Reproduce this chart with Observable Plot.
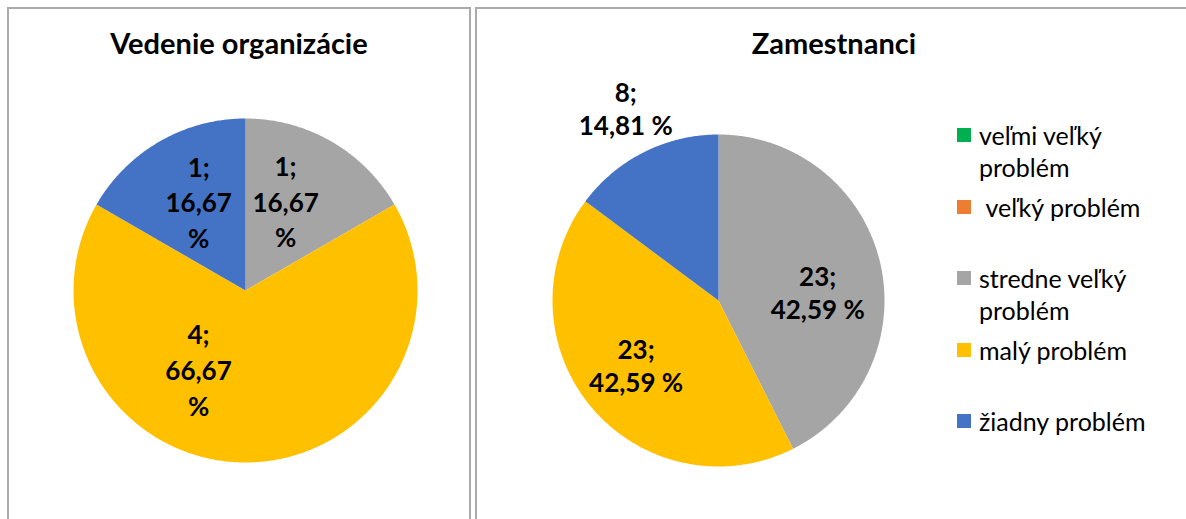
<!DOCTYPE html>
<html>
<head>
<meta charset="utf-8">
<script src="https://cdn.jsdelivr.net/npm/d3@7"></script>
<script src="https://cdn.jsdelivr.net/npm/@observablehq/plot@0.6"></script>
<style>
  html, body { margin: 0; padding: 0; background: #fff; }
  body { width: 1186px; height: 519px; overflow: hidden; position: relative; font-family: Lato, "Open Sans", sans-serif; }
  .panel { position: absolute; top: 7px; height: 530px; border: 2px solid #ABABAB; border-bottom: none; box-sizing: border-box; }
  .title { position: absolute; left: 0; right: 0; top: 19px; text-align: center; font-weight: bold; font-size: 29px; line-height: 30px; color: #000; }
  .chart { position: absolute; }
  .legend-item { position: absolute; left: 957px; display: flex; align-items: flex-start; font-size: 25px; line-height: 32px; color: #000; }
  .legend-item .sw { width: 14px; height: 14px; margin-top: 9px; margin-right: 8px; flex: none; }
  .legend-item .lbl { white-space: pre-wrap; width: 190px; }
</style>
</head>
<body>
<script>
// ---- data ----
const categories = ["veľmi veľký problém", " veľký problém", "stredne veľký problém", "malý problém", "žiadny problém"];
const colors = ["#00B050", "#ED7D31", "#A5A5A5", "#FFC000", "#4472C4"];
const titles = ["Vedenie organizácie", "Zamestnanci"];
const vedenieValues = [0, 0, 1, 4, 1];
const zamestnanciValues = [0, 0, 23, 23, 8];

// ---- layout (not data) ----
const charts = [
  { title: titles[0], values: vedenieValues, panelLeft: 7, panelWidth: 464,
    left: 8, top: 8, width: 462, height: 511, cx: 237, cy: 282, r: 172,
    wrapPercent: true, lineHeight: 1.37,
    labelPlace: [null, null, {da: -6, f: 0.573}, {da: 31, f: 0.53}, {da: 2.4, f: 0.587}] },
  { title: titles[1], values: zamestnanciValues, panelLeft: 475, panelWidth: 718,
    left: 476, top: 8, width: 710, height: 511, cx: 242, cy: 292, r: 166,
    wrapPercent: false, lineHeight: 1.27,
    labelPlace: [null, null, {da: 8.3, f: 0.60}, {da: 2, f: 0.63}, {da: 1, f: 1.29}] }
];

function fmtPct(v, total) {
  return (v / total * 100).toFixed(2).replace(".", ",");
}

charts.forEach(cfg => {
  const panel = document.createElement("div");
  panel.className = "panel";
  panel.style.left = cfg.panelLeft + "px";
  panel.style.width = cfg.panelWidth + "px";
  const t = document.createElement("div");
  t.className = "title";
  t.textContent = cfg.title;
  panel.appendChild(t);
  document.body.appendChild(panel);

  const total = d3.sum(cfg.values);
  const arcs = d3.pie().sort(null).value(d => d)(cfg.values);
  const pts = [];
  const labels = [];
  arcs.forEach((p, i) => {
    if (p.value <= 0) return;
    const n = Math.max(2, Math.ceil((p.endAngle - p.startAngle) / (Math.PI / 360)));
    pts.push({cat: categories[i], x: 0, y: 0});
    for (let k = 0; k <= n; k++) {
      const a = p.startAngle + (p.endAngle - p.startAngle) * k / n;
      pts.push({cat: categories[i], x: cfg.r * Math.sin(a), y: -cfg.r * Math.cos(a)});
    }
    pts.push({cat: categories[i], x: 0, y: 0});
    const lp = cfg.labelPlace[i] || {da: 0, f: 0.6};
    const mid = (p.startAngle + p.endAngle) / 2 + lp.da * Math.PI / 180;
    const pct = fmtPct(p.value, total);
    labels.push({
      x: cfg.r * lp.f * Math.sin(mid),
      y: -cfg.r * lp.f * Math.cos(mid),
      text: cfg.wrapPercent ? `${p.value};\n${pct}\n%` : `${p.value};\n${pct} %`
    });
  });

  const svg = Plot.plot({
    width: cfg.width,
    height: cfg.height,
    margin: 0,
    style: {fontFamily: "Lato, 'Open Sans', sans-serif", background: "transparent", overflow: "visible"},
    x: {domain: [-cfg.cx, cfg.width - cfg.cx], range: [0, cfg.width], axis: null},
    y: {domain: [-cfg.cy, cfg.height - cfg.cy], range: [0, cfg.height], axis: null},
    color: {domain: categories, range: colors},
    marks: [
      Plot.line(pts, {x: "x", y: "y", z: "cat", fill: "cat", stroke: "none", curve: "linear"}),
      Plot.text(labels, {x: "x", y: "y", text: "text", fontSize: 26, fontWeight: "bold",
        lineHeight: cfg.lineHeight, fill: "#000", textAnchor: "middle", lineAnchor: "middle"})
    ]
  });
  svg.classList.add("chart");
  svg.style.left = cfg.left + "px";
  svg.style.top = cfg.top + "px";
  svg.style.position = "absolute";
  document.body.appendChild(svg);
});

// legend
categories.forEach((c, i) => {
  const item = document.createElement("div");
  item.className = "legend-item";
  item.style.top = (119 + 71.5 * i) + "px";
  const sw = document.createElement("div");
  sw.className = "sw";
  sw.style.background = colors[i];
  const lbl = document.createElement("div");
  lbl.className = "lbl";
  lbl.textContent = c;
  item.appendChild(sw);
  item.appendChild(lbl);
  document.body.appendChild(item);
});
</script>
</body>
</html>
